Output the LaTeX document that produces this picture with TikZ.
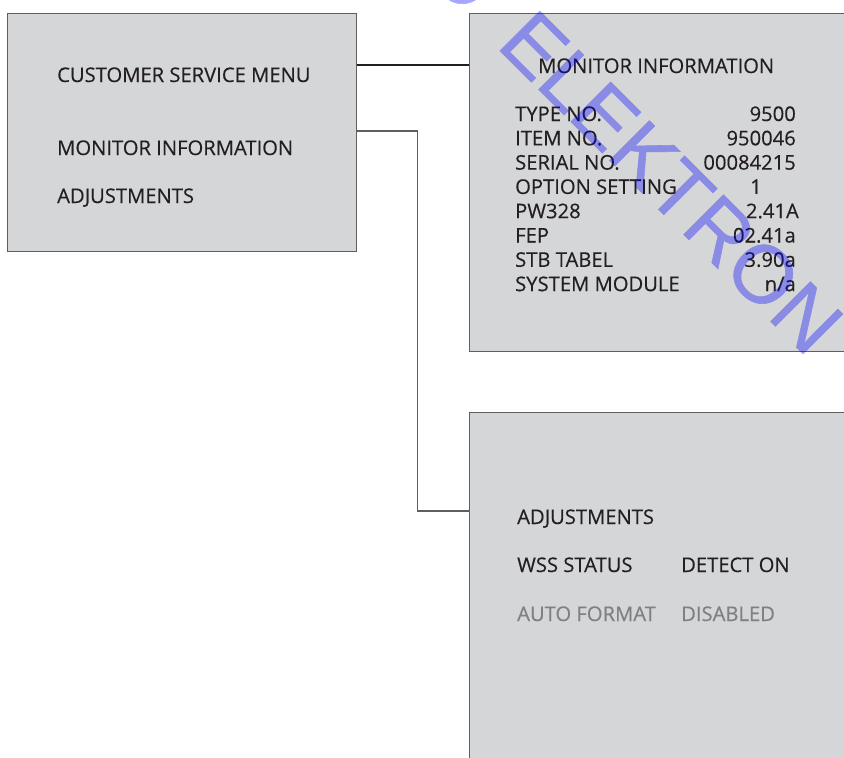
\documentclass[tikz,border=0pt]{standalone}
\usepackage{fontspec}
\setmainfont{Open Sans}[FakeBold=0.35]
\newfontfamily\stampfont[FakeBold=0.7]{Liberation Sans}
\usepackage{xcolor}
\usetikzlibrary{positioning}
\definecolor{panelgray}{RGB}{213,214,216}
\definecolor{framegray}{RGB}{95,95,95}
\definecolor{inkblack}{RGB}{35,31,32}
\definecolor{dimgray}{RGB}{128,128,130}

\begin{document}
\begin{tikzpicture}[
    x=1pt, y=-1pt,
    panel/.style={draw=framegray, fill=panelgray, line width=0.9pt, anchor=north west, inner sep=0pt},
    txt/.style={anchor=base west, inner sep=0pt, text=inkblack, font=\fontsize{20.2}{24}\selectfont},
    val/.style={txt, anchor=base east},
    wire/.style={draw=framegray, line width=1.1pt},
    stamptxt/.style={rotate=-45, inner sep=0pt, text=blue, font=\stampfont\fontsize{82}{82}\selectfont}
]

% page
\useasboundingbox (0,0) rectangle (844,758);
\clip (0,0) rectangle (844,758);

% panels
\node[panel, minimum width=349pt, minimum height=238pt] (menu) at (7,13) {};
\node[panel, minimum width=420pt, minimum height=338pt] (info) at (469,13) {};
\node[panel, minimum width=420pt, minimum height=400pt] (adjust) at (469,412) {};

% menu entries
\node[txt] (cust) at (57,82) {CUSTOMER SERVICE MENU};
\node[txt] (moninfo) at (57,155) {MONITOR INFORMATION};
\node[txt] (adjmenu) at (57,203) {ADJUSTMENTS};

% monitor information
\node[txt] (infotitle) at (538,73) {MONITOR INFORMATION};
\foreach \key/\value/\dx [count=\i] in {TYPE NO./9500/0, ITEM NO./950046/0,
    SERIAL NO./00084215/0, OPTION SETTING/1/-34, PW328/2.41A/3,
    FEP/02.41a/0, STB TABEL/3.90a/0, SYSTEM MODULE/n\slash a/0} {
    \node[txt] (key\i) at (515, {121+24.3*(\i-1)}) {\key};
    \node[val] (val\i) at ({796+\dx}, {121+24.3*(\i-1)}) {\value};
}

% adjustments
\node[txt] (adjtitle) at (517,524) {ADJUSTMENTS};
\node[txt] (wss) at (517,572) {WSS STATUS};
\node[txt] (wssval) at (681,572) {DETECT ON};
\node[txt, text=dimgray] (auto) at (517,621) {AUTO FORMAT};
\node[txt, text=dimgray] (autoval) at (681,621) {DISABLED};

% connectors
\draw[inkblack, line width=1.6pt] ([yshift=-52pt]menu.north east) -- ([yshift=-52pt]info.north west);
\draw[wire] ([yshift=-118pt]menu.north east) -- ++(61,0) |- ([yshift=-99pt]adjust.north west);

% watermark
\begin{scope}[transparency group, opacity=0.35]
\node[stamptxt, anchor=base west] (stamp) at (495,46) {ELEKTRON};
\node[stamptxt, anchor=base east] (stampo) at (466,17) {O};
\end{scope}

\end{tikzpicture}
\end{document}
